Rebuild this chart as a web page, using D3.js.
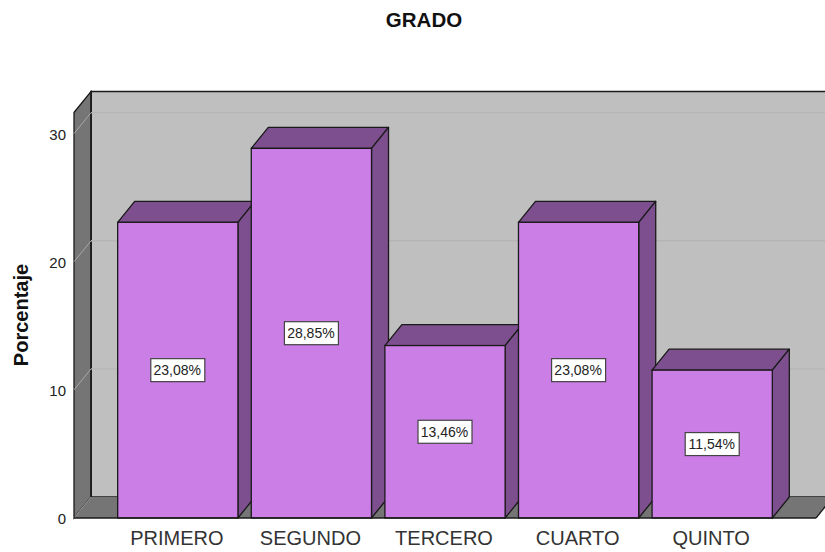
<!DOCTYPE html>
<html><head><meta charset="utf-8">
<script src="https://cdn.jsdelivr.net/npm/d3@7/dist/d3.min.js"></script>
<style>html,body{margin:0;padding:0;background:#fff}svg{display:block}text{font-family:"Liberation Sans",Arial,sans-serif}</style>
</head><body><svg id="c" width="825" height="552"></svg>
<script>
const categories=["PRIMERO","SEGUNDO","TERCERO","CUARTO","QUINTO"];
const seriesValues=[23.08,28.85,13.46,23.08,11.54];
const valueLabels=["23,08%","28,85%","13,46%","23,08%","11,54%"];
const yTicks=[0,10,20,30];
const chartTitle="GRADO";
const yAxisTitle="Porcentaje";

const svg=d3.select("#c");
const W=825,H=552,dx=17,dy=21;
const y=d3.scaleLinear().domain([0,31.65]).range([518,112.5]);
const x=d3.scaleBand().domain(categories).range([111,779]).paddingInner(0.1).paddingOuter(0.05);
const line=d3.line();
const ink="#1a1a1a";

// back wall
svg.append("rect").attr("x",74+dx).attr("y",y(31.65)-dy).attr("width",W).attr("height",y(0)-y(31.65))
  .attr("fill","#bfbfbf").attr("stroke",ink).attr("stroke-width",1.5);
// left wall
svg.append("path").attr("d",line([[74,y(31.65)],[74+dx,y(31.65)-dy],[74+dx,y(0)-dy],[74,y(0)]])+"Z")
  .attr("fill","#757575").attr("stroke",ink).attr("stroke-width",1.3);
// floor
svg.append("path").attr("d",line([[74,y(0)],[74+dx,y(0)-dy],[816+dx,y(0)-dy],[816,y(0)]])+"Z")
  .attr("fill","#757575");
svg.append("line").attr("x1",74+dx).attr("x2",74+dx).attr("y1",y(31.65)-dy).attr("y2",y(0)-dy).attr("stroke",ink).attr("stroke-width",1.5);
svg.append("line").attr("x1",74).attr("y1",y(0)).attr("x2",74+dx).attr("y2",y(0)-dy).attr("stroke","#999").attr("stroke-width",1);
svg.append("line").attr("x1",816).attr("y1",y(0)).attr("x2",816+dx).attr("y2",y(0)-dy).attr("stroke",ink).attr("stroke-width",1.3);

// gridlines
const grid=svg.append("g");
yTicks.filter(t=>t>0).forEach(t=>{
  grid.append("line").attr("x1",74+dx).attr("x2",W).attr("y1",y(t)-dy).attr("y2",y(t)-dy).attr("stroke","#b5b5b5").attr("stroke-width",1.4);
  grid.append("line").attr("x1",74).attr("x2",74+dx).attr("y1",y(t)).attr("y2",y(t)-dy).attr("stroke","#a8a8a8").attr("stroke-width",1);
});

// bars
const bars=svg.append("g").selectAll("g").data(categories).join("g");
const sw=1.3;
bars.append("path").attr("d",(c,i)=>{const a=x(c),b=a+x.bandwidth(),t=y(seriesValues[i]);
  return line([[a,t],[a+dx,t-dy],[b+dx,t-dy],[b,t]])+"Z";})
  .attr("fill","#7d4f8e").attr("stroke",ink).attr("stroke-width",sw).attr("stroke-linejoin","round");
bars.append("path").attr("d",(c,i)=>{const b=x(c)+x.bandwidth(),t=y(seriesValues[i]);
  return line([[b,t],[b+dx,t-dy],[b+dx,y(0)-dy],[b,y(0)]])+"Z";})
  .attr("fill","#7d4f8e").attr("stroke",ink).attr("stroke-width",sw).attr("stroke-linejoin","round");
bars.append("rect").attr("x",c=>x(c)).attr("width",x.bandwidth())
  .attr("y",(c,i)=>y(seriesValues[i])).attr("height",(c,i)=>y(0)-y(seriesValues[i]))
  .attr("fill","#cb7ee6").attr("stroke",ink).attr("stroke-width",sw);

// baseline
svg.append("line").attr("x1",74).attr("x2",816).attr("y1",y(0)).attr("y2",y(0)).attr("stroke",ink).attr("stroke-width",1.5);

// value labels
bars.append("rect").attr("x",c=>x(c)+x.bandwidth()/2-27).attr("width",54).attr("height",23)
  .attr("y",(c,i)=>(y(seriesValues[i])+y(0))/2-11.5)
  .attr("fill","#fff").attr("stroke","#444").attr("stroke-width",1.2);
bars.append("text").attr("x",c=>x(c)+x.bandwidth()/2-0.5).attr("y",(c,i)=>(y(seriesValues[i])+y(0))/2+5)
  .attr("text-anchor","middle").attr("font-size",14).attr("fill","#222").text((c,i)=>valueLabels[i]);

// axes (labels only)
const axY=svg.append("g").attr("transform","translate(74,1)").call(d3.axisLeft(y).tickValues(yTicks).tickSize(0).tickPadding(8));
axY.select(".domain").remove();
axY.selectAll("text").attr("font-size",15).attr("fill","#222").style("font-family",'"Liberation Sans",Arial,sans-serif');
const axX=svg.append("g").attr("transform","translate(-1,518)").call(d3.axisBottom(x).tickSize(0).tickPadding(13));
axX.select(".domain").remove();
axX.selectAll("text").attr("font-size",20).attr("fill","#333").style("font-family",'"Liberation Sans",Arial,sans-serif');

// titles
svg.append("text").attr("x",424).attr("y",27).attr("text-anchor","middle").attr("font-size",20.5).attr("font-weight","bold").attr("fill","#111").text(chartTitle);
svg.append("text").attr("transform","translate(28,315) rotate(-90)").attr("text-anchor","middle").attr("font-size",20).attr("font-weight","bold").attr("fill","#111").text(yAxisTitle);
</script></body></html>
